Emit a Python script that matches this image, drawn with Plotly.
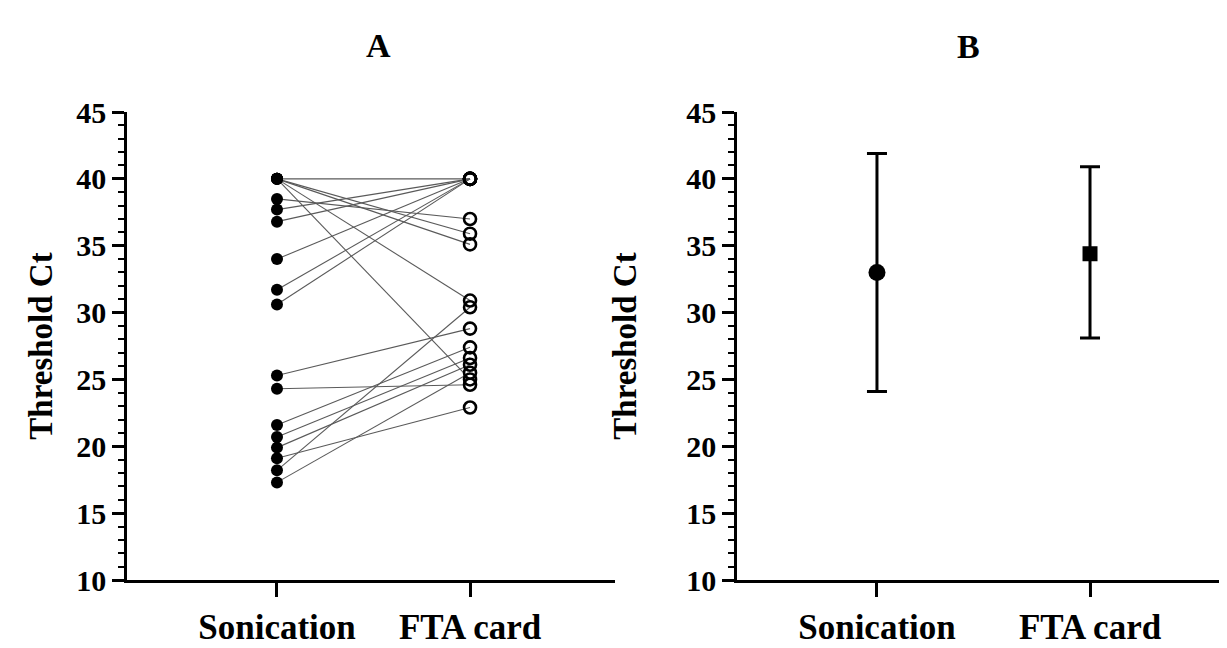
import plotly.graph_objects as go

# ---------------- data ----------------
categories = ["Sonication", "FTA card"]

# Panel A: paired threshold Ct values (sonication -> FTA card)
sonication_ct = [40.0, 40.0, 40.0, 40.0, 40.0, 38.5, 37.7, 36.8, 34.0, 31.7, 30.6,
                 25.3, 24.3, 21.6, 20.7, 19.9, 19.1, 18.2, 17.3]
fta_card_ct = [40.0, 35.9, 35.1, 30.9, 25.0, 37.0, 40.0, 40.0, 40.0, 40.0, 40.0,
               28.8, 24.6, 27.4, 26.6, 26.1, 22.9, 30.4, 25.5]

# Panel B: mean with error range
mean_ct = [33.0, 34.4]
upper_ct = [41.9, 40.9]
lower_ct = [24.1, 28.1]

y_ticks = [10, 15, 20, 25, 30, 35, 40, 45]

# ---------------- figure ----------------
FONT = "Liberation Serif"
fig = go.Figure()

lx, ly = [], []
for s, f in zip(sonication_ct, fta_card_ct):
    lx += [categories[0], categories[1], None]
    ly += [s, f, None]
fig.add_trace(go.Scatter(x=lx, y=ly, mode="lines",
                         line=dict(color="#5a5a5a", width=1.1),
                         showlegend=False, hoverinfo="skip",
                         xaxis="x", yaxis="y"))
fig.add_trace(go.Scatter(x=[categories[0]] * len(sonication_ct), y=sonication_ct,
                         mode="markers",
                         marker=dict(symbol="circle", size=12, color="black"),
                         showlegend=False, xaxis="x", yaxis="y"))
fig.add_trace(go.Scatter(x=[categories[1]] * len(fta_card_ct), y=fta_card_ct,
                         mode="markers",
                         marker=dict(symbol="circle-open", size=12, color="black",
                                     line=dict(width=2.6, color="black")),
                         showlegend=False, xaxis="x", yaxis="y"))

err_plus = [u - m for u, m in zip(upper_ct, mean_ct)]
err_minus = [m - l for m, l in zip(mean_ct, lower_ct)]
symbols = ["circle", "square"]
sizes = [17, 15]
for i in range(2):
    fig.add_trace(go.Scatter(x=[categories[i]], y=[mean_ct[i]], mode="markers",
                             marker=dict(symbol=symbols[i], size=sizes[i], color="black"),
                             error_y=dict(type="data", symmetric=False,
                                          array=[err_plus[i]], arrayminus=[err_minus[i]],
                                          color="black", thickness=3, width=10),
                             showlegend=False, xaxis="x2", yaxis="y2"))

# the page body adds an 8 px margin; lay out in page pixels minus that offset
OFF = 8
W = 1227.0 - OFF
H = 648.0 - OFF


def px_x(v):
    return (v - OFF) / W


def px_y(v):
    return 1 - (v - OFF) / H


def y_axis(standoff):
    return dict(range=[10, 45], tickvals=y_ticks, showgrid=False, zeroline=False,
                automargin=False,
                showline=True, linecolor="black", linewidth=2.5,
                ticks="outside", ticklen=12, tickwidth=2.5, tickcolor="black",
                minor=dict(dtick=1, ticks="outside", ticklen=6, tickwidth=2, tickcolor="black"),
                tickfont=dict(family=FONT, size=30, color="black", weight="bold"),
                title=dict(text="Threshold Ct",
                           font=dict(family=FONT, size=33, color="black", weight="bold"),
                           standoff=standoff),
                domain=[px_y(580), px_y(112)])


common_x = dict(type="category", categoryorder="array", categoryarray=categories,
                automargin=False,
                showgrid=False, zeroline=False, showline=True, linecolor="black", linewidth=2.5,
                ticks="outside", ticklen=14, tickwidth=2.5, tickcolor="black",
                tickfont=dict(family=FONT, size=35, color="black", weight="bold"))

fig.update_layout(
    width=int(W), height=int(H),
    margin=dict(l=0, r=0, t=0, b=0),
    paper_bgcolor="white", plot_bgcolor="white",
    xaxis=dict(common_x, domain=[px_x(127), px_x(615)], range=[-0.777, 1.751], anchor="y"),
    yaxis=dict(y_axis(14), anchor="x"),
    xaxis2=dict(common_x, domain=[px_x(737), 1.0], range=[-0.657, 1.643], anchor="y2"),
    yaxis2=dict(y_axis(40), anchor="x2"),
    annotations=[
        dict(text="A", x=px_x(378), y=px_y(45), xref="paper", yref="paper",
             xanchor="center", yanchor="middle", showarrow=False,
             font=dict(family=FONT, size=34, color="black", weight="bold")),
        dict(text="B", x=px_x(968), y=px_y(47), xref="paper", yref="paper",
             xanchor="center", yanchor="middle", showarrow=False,
             font=dict(family=FONT, size=34, color="black", weight="bold")),
    ],
)

fig.write_html("out.html")
